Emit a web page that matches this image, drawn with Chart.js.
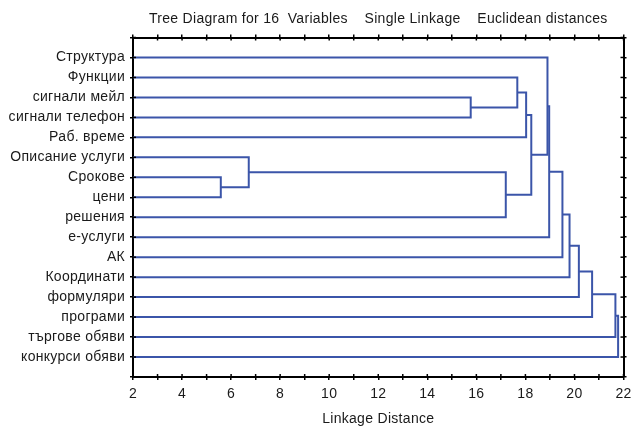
<!DOCTYPE html>
<html>
<head>
<meta charset="utf-8">
<script src="https://cdn.jsdelivr.net/npm/chart.js@4.4.1/dist/chart.umd.min.js"></script>
<style>
  html, body { margin: 0; padding: 0; background: #fff; }
  #wrap { width: 631px; height: 426px; }
</style>
</head>
<body>
<div id="wrap"><canvas id="tree"></canvas></div>
<script>
// leaves, top to bottom
const leafLabels = ['Структура', 'Функции', 'сигнали мейл', 'сигнали телефон', 'Раб. време',
    'Описание услуги', 'Срокове', 'цени', 'решения', 'е-услуги', 'АК', 'Координати',
    'формуляри', 'програми', 'търгове обяви', 'конкурси обяви'];

// merge steps: node 16 + i joins mergeLeft[i] and mergeRight[i] at mergeHeight[i]
const mergeLeft = [6, 5, 2, 17, 1, 20, 21, 0, 23, 24, 25, 26, 27, 28, 29];
const mergeRight = [7, 16, 3, 8, 18, 4, 19, 22, 9, 10, 11, 12, 13, 14, 15];
const mergeHeight = [5.58, 6.72, 15.77, 17.20, 17.67, 18.03, 18.24, 18.90, 18.97, 19.51, 19.80, 20.18, 20.72, 21.67, 21.78];

const xTicksMin = 2;
const xTicksMax = 22;
const chartTitle = 'Tree Diagram for 16  Variables    Single Linkage    Euclidean distances';
const xTitle = 'Linkage Distance';

const lineColor = '#3b55a9';
const fontFamily = '"Liberation Sans", Arial, sans-serif';

// node positions: leaves sit at distance 0, row index + 1
const nodeX = leafLabels.map(() => 0);
const nodeY = leafLabels.map((_, i) => i + 1);

const datasets = [];
mergeHeight.forEach((h, i) => {
    const a = mergeLeft[i], b = mergeRight[i];
    datasets.push({
        data: [
            { x: nodeX[a], y: nodeY[a] },
            { x: h, y: nodeY[a] },
            { x: h, y: nodeY[b] },
            { x: nodeX[b], y: nodeY[b] }
        ],
        showLine: true,
        borderColor: lineColor,
        borderWidth: 2,
        borderJoinStyle: 'miter',
        pointRadius: 0,
        fill: false
    });
    nodeX.push(h);
    nodeY.push((nodeY[a] + nodeY[b]) / 2);
});

// the original text is set a bit wide
const spacing = {
    id: 'spacing',
    beforeLayout(chart) { chart.ctx.letterSpacing = '0.3px'; },
    beforeDraw(chart) { chart.ctx.letterSpacing = '0.3px'; }
};

// small ticks pointing into the plot, like the frame in the original
const innerTicks = {
    id: 'innerTicks',
    afterDatasetsDraw(chart) {
        const ctx = chart.ctx;
        const area = chart.chartArea;
        ctx.save();
        ctx.strokeStyle = '#000';
        ctx.lineWidth = 1.5;
        Object.values(chart.scales).forEach(sc => {
            sc.ticks.forEach((t, i) => {
                const p = sc.getPixelForTick(i);
                ctx.beginPath();
                if (sc.position === 'bottom') { ctx.moveTo(p, area.bottom); ctx.lineTo(p, area.bottom - 3); }
                if (sc.position === 'top') { ctx.moveTo(p, area.top); ctx.lineTo(p, area.top + 3); }
                if (sc.position === 'left') { ctx.moveTo(area.left, p); ctx.lineTo(area.left + 3, p); }
                if (sc.position === 'right') { ctx.moveTo(area.right, p); ctx.lineTo(area.right - 3, p); }
                ctx.stroke();
            });
        });
        ctx.restore();
    }
};

const frameGrid = { drawOnChartArea: false, drawTicks: true, tickLength: 3, color: '#000', lineWidth: 1.5 };
const frameBorder = { display: true, color: '#000', width: 2 };
const textFont = { family: fontFamily, size: 14 };

new Chart(document.getElementById('tree'), {
    type: 'scatter',
    data: { datasets: datasets },
    options: {
        responsive: true,
        maintainAspectRatio: false,
        animation: false,
        layout: { padding: 0 },
        plugins: { legend: { display: false }, tooltip: { enabled: false }, title: { display: false } },
        scales: {
            x: {
                type: 'linear', position: 'bottom', min: xTicksMin, max: xTicksMax,
                grid: frameGrid, border: frameBorder,
                ticks: {
                    stepSize: 1, autoSkip: false, maxRotation: 0, padding: 6,
                    color: '#1a1a1a', font: textFont,
                    callback: v => (v % 2 === 0 ? v : '')
                },
                title: { display: true, text: xTitle, color: '#1a1a1a', padding: { top: 0, bottom: 0 },
                    font: { family: fontFamily, size: 14, lineHeight: 1 } },
                afterFit: sc => { sc.height = 49; sc.paddingLeft = 0; sc.paddingRight = 0; }
            },
            x2: {
                type: 'linear', position: 'top', min: xTicksMin, max: xTicksMax,
                grid: frameGrid, border: frameBorder,
                ticks: { display: false, stepSize: 1, autoSkip: false },
                title: { display: true, text: chartTitle, color: '#1a1a1a', padding: { top: 12, bottom: 0 },
                    font: { family: fontFamily, size: 14, lineHeight: 1 } },
                afterFit: sc => { sc.height = 37.5; sc.paddingLeft = 0; sc.paddingRight = 0; }
            },
            y: {
                type: 'linear', position: 'left', min: 0, max: 17, reverse: true,
                grid: frameGrid, border: frameBorder,
                ticks: {
                    stepSize: 1, autoSkip: false, padding: 5,
                    color: '#1a1a1a', font: textFont,
                    callback: v => leafLabels[v - 1] || ''
                },
                afterFit: sc => { sc.width = 133; }
            },
            y2: {
                type: 'linear', position: 'right', min: 0, max: 17, reverse: true,
                grid: frameGrid, border: frameBorder,
                ticks: { display: false, stepSize: 1, autoSkip: false },
                afterFit: sc => { sc.width = 7.5; }
            }
        }
    },
    plugins: [spacing, innerTicks]
});
</script>
</body>
</html>
